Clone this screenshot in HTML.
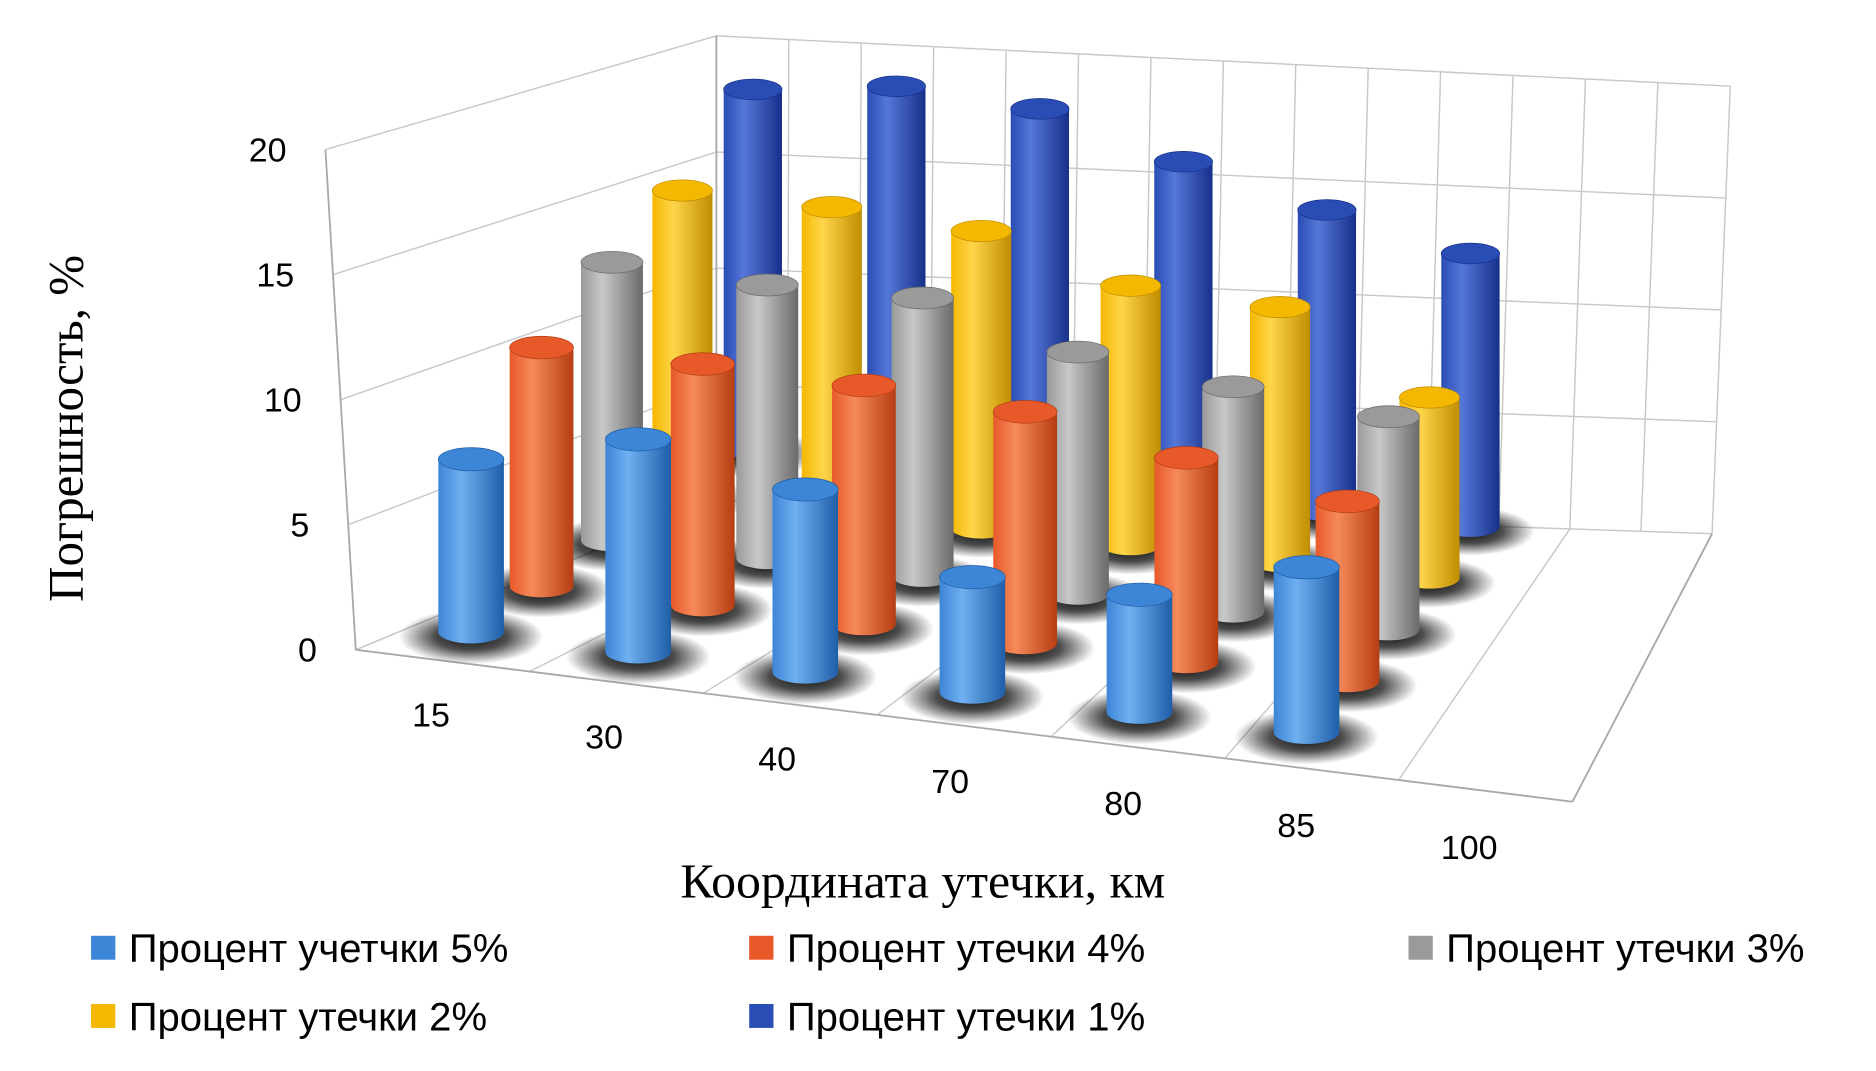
<!DOCTYPE html>
<html><head><meta charset="utf-8"><style>
html,body{margin:0;padding:0;background:#fff;}
svg{display:block;}
text{font-family:"Liberation Sans","Noto Sans CJK JP",sans-serif;}
</style></head><body>
<svg id="chart" width="1876" height="1071" viewBox="0 0 1545 895" preserveAspectRatio="none" xmlns="http://www.w3.org/2000/svg">
<defs>
<radialGradient id="shadow"><stop offset="0" stop-color="#000" stop-opacity="0.95"/><stop offset="0.5" stop-color="#000" stop-opacity="0.7"/><stop offset="1" stop-color="#000" stop-opacity="0"/></radialGradient>
</defs>
<g id="grid"></g>
<g id="bars"></g>
<g id="labels"></g>
<text transform="translate(68,358) rotate(-90)" text-anchor="middle" font-size="41" style="font-family:'Liberation Serif',serif">Погрешность, %</text>
<text x="760" y="750" text-anchor="middle" font-size="41" style="font-family:'Liberation Serif',serif">Координата утечки, км</text>
<g font-size="33">
<g><rect x="75" y="782" width="20" height="20" fill="#3d85d6"/><text x="106" y="804">Процент учетчки 5%</text></g>
<g><rect x="617" y="782" width="20" height="20" fill="#e8592a"/><text x="648" y="804">Процент утечки 4%</text></g>
<g><rect x="1160" y="782" width="20" height="20" fill="#9a9a9a"/><text x="1191" y="804">Процент утечки 3%</text></g>
<g><rect x="75" y="839" width="20" height="20" fill="#f5b800"/><text x="106" y="861">Процент утечки 2%</text></g>
<g><rect x="617" y="839" width="20" height="20" fill="#2a4db5"/><text x="648" y="861">Процент утечки 1%</text></g>
</g>
</svg>
<script>
const categories = ["15","30","40","70","80","85","100"];
const seriesNames = ["5%","4%","3%","2%","1%"];
const s5 = [6.9, 8.5, 7.3, 4.6, 4.7, 6.6, null];
const s4 = [9.7, 9.8, 9.7, 9.4, 8.3, 7.3, null];
const s3 = [11.5, 11.3, 11.5, 10.0, 9.3, 8.8, null];
const s2 = [12.8, 12.8, 12.5, 10.9, 10.7, 7.6, null];
const s1 = [15.4, 16.2, 15.9, 14.3, 12.9, 11.7, null];
const yTicks = [0,5,10,15,20];

const series = [s5,s4,s3,s2,s1];
const colors = [["#6fb0f0","#3d85d6","#1f5ea8"],["#f58a5a","#e8592a","#b63d12"],["#c8c8c8","#9a9a9a","#6a6a6a"],["#ffd54a","#f5b800","#c08d00"],["#5577d8","#2a4db5","#17308a"]];
const NS="http://www.w3.org/2000/svg";
function mk(tag, attrs, parent){const e=document.createElementNS(NS,tag);for(const k in attrs)e.setAttribute(k,attrs[k]);parent.appendChild(e);return e;}
const P00=[388,528], P50=[1076,612], P04=[620,375], P54=[1211,440];
function base(i,j){
  const u=i/5, v=j/4;
  const fx=P00[0]+(P50[0]-P00[0])*u, fy=P00[1]+(P50[1]-P00[1])*u;
  const bx=P04[0]+(P54[0]-P04[0])*u, by=P04[1]+(P54[1]-P04[1])*u;
  return [fx+(bx-fx)*v, fy+(by-fy)*v];
}
function hScale(j){return 20.9-(20.9-19.5)*j/4;}
function radius(j){return 27-3*j/4;}
const grid=document.getElementById('grid');
const FL=[293,543],FR=[1295,670],BL=[590,418],BR=[1410,446];
const FLt=[268,125],BLt=[590,30],BRt=[1425,72];
const gs={stroke:"#c8c8c8","stroke-width":1.2,fill:"none"};
function lerp(a,b,t){return [a[0]+(b[0]-a[0])*t,a[1]+(b[1]-a[1])*t];}
yTicks.forEach(t=>{
  const f=t/20;
  const a=lerp(FL,FLt,f), b=lerp(BL,BLt,f), c=lerp(BR,BRt,f);
  const l=mk('polyline',Object.assign({points:`${a} ${b} ${c}`},gs),grid);
  
  
});
for(let k=0;k<=14;k++){
  const a=lerp(BL,BR,k/14), b=lerp(BLt,BRt,k/14);
  const l=mk('line',Object.assign({x1:a[0],y1:a[1],x2:b[0],y2:b[1]},gs),grid);
  
  
}
for(let k=0;k<=7;k++){
  const a=lerp(FL,FR,k/7), b=lerp(BL,BR,k/7);
  const l=mk('line',Object.assign({x1:a[0],y1:a[1],x2:b[0],y2:b[1]},gs),grid);
  
  
}
[[FL,FLt],[BL,BLt],[FL,FR],[FR,BR]].forEach(p=>{
  const l=mk('line',{x1:p[0][0],y1:p[0][1],x2:p[1][0],y2:p[1][1],stroke:"#a8a8a8","stroke-width":1.5},grid);
  
  
});
const bars=document.getElementById('bars');
const defs=document.querySelector('defs');
colors.forEach((c,j)=>{
  const g=mk('linearGradient',{id:'g'+j,x1:0,x2:1,y1:0,y2:0},defs);
  mk('stop',{offset:0,'stop-color':c[1]},g);mk('stop',{offset:0.35,'stop-color':c[0]},g);mk('stop',{offset:1,'stop-color':c[2]},g);
});
for(let j=4;j>=0;j--){
  series[j].forEach((v,i)=>{
    if(v==null)return;
    const [x,y]=base(i,j); const r=radius(j), ry=r*0.36, h=v*hScale(j);
    const g=mk('g',{},bars);
    
    
    mk('ellipse',{cx:x,cy:y+4,rx:r*2.2,ry:r*0.85,fill:'url(#shadow)'},g);
    mk('path',{d:`M${x-r},${y-h} L${x-r},${y} A${r},${ry} 0 0 0 ${x+r},${y} L${x+r},${y-h} Z`,fill:`url(#g${j})`},g);
    mk('ellipse',{cx:x,cy:y-h,rx:r,ry:ry,fill:colors[j][1],stroke:colors[j][2],'stroke-width':0.6},g);
  });
}
const lab=document.getElementById('labels');
yTicks.forEach(t=>{
  const p=lerp(FL,FLt,t/20);
  const e=mk('text',{x:p[0]-32,y:p[1]+10,'text-anchor':'end','font-size':28},lab);
  e.textContent=t;
  
  
});
categories.forEach((c,i)=>{
  const e=mk('text',{x:355+142.5*i,y:607+18.5*i,'text-anchor':'middle','font-size':28},lab);
  e.textContent=c;
  
  
});
</script>
</body></html>
